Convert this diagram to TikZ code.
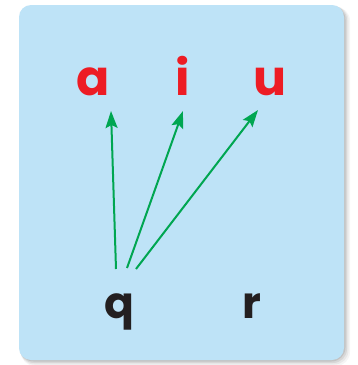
\documentclass[tikz,border=0pt]{standalone}
\usepackage{fontspec}
\setmainfont{Poppins}
\usetikzlibrary{arrows.meta}
\definecolor{boxblue}{HTML}{BEE3F7}
\definecolor{letred}{HTML}{ED1C24}
\definecolor{letblack}{HTML}{231F20}
\definecolor{argreen}{HTML}{00A651}
\tikzset{
  redletter/.style={anchor=base, inner sep=0pt, text=letred, font=\fontsize{49}{49}\selectfont\bfseries},
  blackletter/.style={anchor=base, inner sep=0pt, text=letblack, font=\fontsize{44}{44}\selectfont\bfseries},
  greenarrow/.style={draw=argreen, line width=2pt, -{Stealth[length=17pt,width=12pt,inset=3pt]}},
}
\begin{document}
\begin{tikzpicture}[x=1pt,y=-1pt]
\useasboundingbox (0,0) rectangle (357,365);
\fill[white] (0,0) rectangle (357,365);
% soft shadow
\foreach \o/\op in {6/0.04,4.5/0.05,3/0.07,1.5/0.09}{
  \fill[black,opacity=\op,rounded corners=14pt] (19+\o*0.3,5+\o*0.3) rectangle (344+\o,360+\o);
}
\fill[boxblue,rounded corners=12pt] (19,5) rectangle (344,360);
\node[redletter] (a) at (93.5,95) {a};
\node[redletter] (i) at (182.5,95) {i};
\node[redletter] (u) at (270,95) {u};
\node[blackletter] (q) at (119,318) {q};
\node[blackletter] (r) at (252,318) {r};
\coordinate (s1) at (116,269);
\coordinate (s2) at (127,268);
\coordinate (s3) at (136,269);
\coordinate (t1) at (111,111);
\coordinate (t2) at (183,111);
\coordinate (t3) at (258,110);
\draw[greenarrow] (s1) -- (t1);
\draw[greenarrow] (s2) -- (t2);
\draw[greenarrow] (s3) -- (t3);
\end{tikzpicture}
\end{document}
